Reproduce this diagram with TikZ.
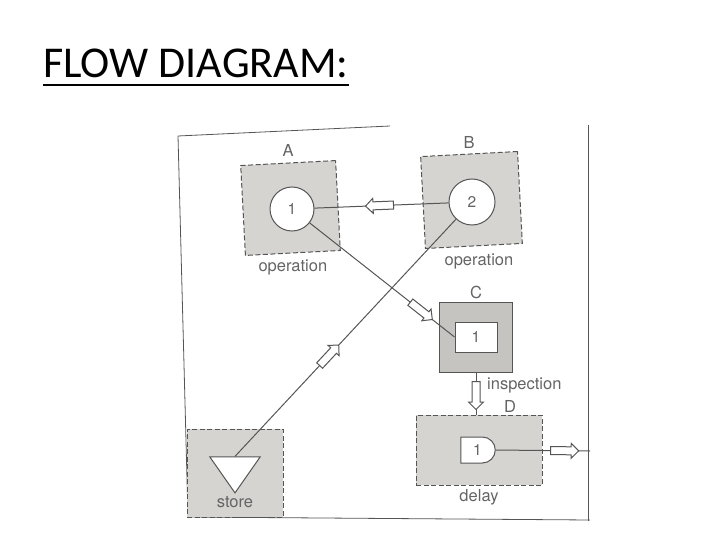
\documentclass[tikz,border=0pt]{standalone}
\usepackage{fontspec}
\setmainfont{Carlito}
\newfontfamily\labelfont{TeX Gyre Heros}
\usetikzlibrary{positioning,shapes.geometric,shapes.arrows,shapes.misc}
\definecolor{boxgray}{HTML}{D6D4D1}
\definecolor{boxdark}{HTML}{C6C4C1}
\definecolor{inkgray}{HTML}{555555}
\definecolor{txtgray}{HTML}{646464}

\begin{document}
\begin{tikzpicture}[x=1pt,y=-1pt,
  opbox/.style={rectangle,draw=inkgray,fill=boxgray,dash pattern=on 5pt off 2.5pt,line width=1pt,inner sep=0pt},
  lbl/.style={font=\labelfont\fontsize{16.5}{18}\selectfont,text=txtgray,inner sep=1pt},
  num/.style={font=\labelfont\fontsize{15.5}{17}\selectfont,text=txtgray},
  opnode/.style={circle,draw=inkgray,fill=white,line width=1pt,minimum size=44pt,inner sep=0pt,num},
  flow/.style={draw=inkgray,line width=1pt},
  hollow/.style={single arrow,draw=inkgray,fill=white,line width=1pt,minimum height=28pt,minimum width=15pt,single arrow head extend=3.5pt,inner sep=3.5pt,sloped,allow upside down,anchor=center},
  node distance=4pt]
  \useasboundingbox (0,0) rectangle (720,540);

  % title
  \node[anchor=base west,inner sep=0pt,font=\fontsize{44}{50}\selectfont] (title) at (43,78) {FLOW DIAGRAM:};
  \draw[line width=2.6pt] ([yshift=-7pt]title.base west) -- ([yshift=-7pt]title.base east);

  % photo frame
  \draw[inkgray,line width=0.8pt] (390,126) -- (178,136) -- (188,517) -- (590,520);
  \draw[inkgray,line width=0.8pt] (588,125) -- (588,521);

  % stations
  \node[opbox,rotate=3,minimum width=95pt,minimum height=90pt] (boxA) at (290.5,208) {};
  \node[opbox,rotate=3,minimum width=97pt,minimum height=92pt] (boxB) at (471.5,200) {};
  \node[rectangle,draw=inkgray,fill=boxdark,line width=1pt,minimum width=73pt,minimum height=70pt] (boxC) at (476,337) {};
  \node[opbox,minimum width=126pt,minimum height=70pt] (boxD) at (479,450) {};
  \node[opbox,minimum width=96pt,minimum height=88pt] (store) at (235,473) {};

  \node[opnode] (c1) at (292,209) {1};
  \node[opnode,minimum size=46pt] (c2) at (472,202) {2};
  \node[rectangle,draw=inkgray,fill=white,line width=1pt,minimum width=42pt,minimum height=30pt,num] (insp) at (476,337) {1};
  \node[rounded rectangle,rounded rectangle west arc=none,draw=inkgray,fill=white,line width=1pt,minimum width=41pt,minimum height=26pt,num] (dl) at (477.5,450) {1};
  \node[isosceles triangle,isosceles triangle apex angle=70,shape border rotate=270,draw=inkgray,fill=white,line width=1pt,minimum height=36pt,inner sep=0pt] (tri) at (235,470) {};

  % labels
  \node[lbl,above=5pt of boxA] {A};
  \node[lbl,below=5pt of boxA] {operation};
  \node[lbl,above=4pt of boxB] {B};
  \node[lbl,below=6pt of boxB,xshift=5pt] {operation};
  \node[lbl,above=2pt of boxC] {C};
  \node[lbl,below right=4pt and 10pt of boxC.south] {inspection};
  \node[lbl,above=1pt of boxD.north,xshift=31pt] {D};
  \node[lbl,below=3pt of boxD] {delay};
  \node[lbl,below=2pt of tri] {store};

  % flows
  \coordinate (out) at (590,451);
  \draw[flow] (c2) -- node[hollow,pos=0.5]{} (c1);
  \draw[flow] (c1) -- node[hollow,pos=0.76]{} (insp.west);
  \draw[flow] (tri.north) -- node[hollow,pos=0.42]{} (c2);
  \draw[flow] (boxC.south) -- node[hollow,pos=0.5]{} (boxC.south |- boxD.north);
  \draw[flow] (dl.east) -- node[hollow,pos=0.71]{} (out);
\end{tikzpicture}
\end{document}
